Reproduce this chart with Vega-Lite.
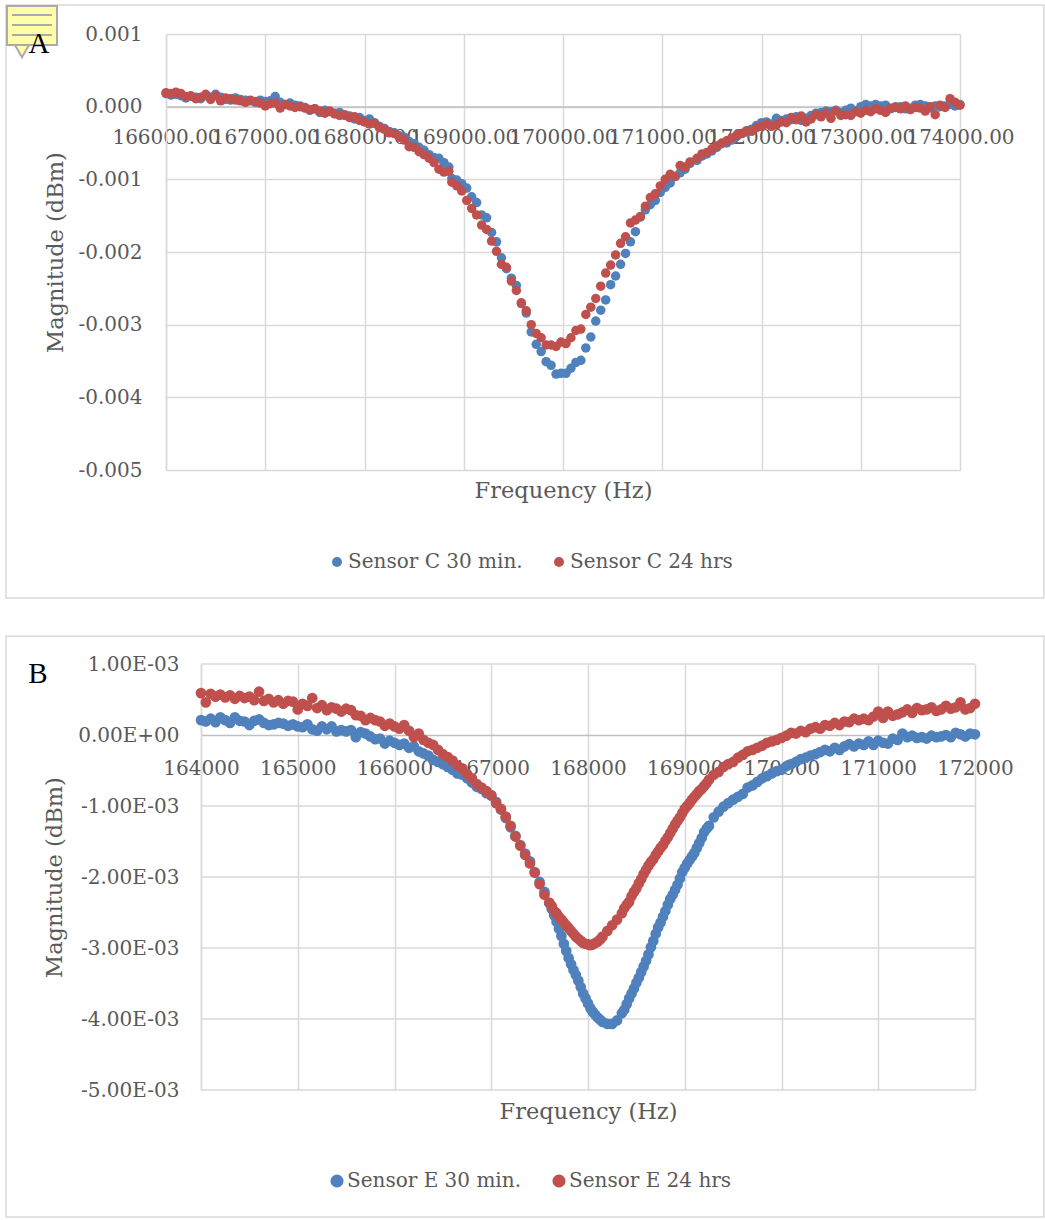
{"$schema":"https://vega.github.io/schema/vega-lite/v6.json","padding":{"left":5,"top":4,"right":0,"bottom":0},"autosize":{"type":"pad"},"background":"white","spacing":36,"align":"none","bounds":"full","center":false,"resolve":{"scale":{"color":"independent"},"legend":{"color":"independent"}},"config":{"view":{"stroke":null},"font":"DejaVu Serif"},"datasets":{"c":[
{"f":166000,"a":0.00018,"b":0.00019},{"f":166050,"a":0.00016,"b":0.00018},{"f":166100,"a":0.00017,"b":0.0002},{"f":166150,"a":0.00015,"b":0.00018},{"f":166200,"a":0.00012,"b":0.00014},{"f":166250,"a":0.00014,"b":0.00015},{"f":166300,"a":0.00013,"b":0.00011},{"f":166350,"a":0.00011,"b":0.00013},{"f":166400,"a":0.00015,"b":0.00017},{"f":166450,"a":0.00013,"b":0.0001},{"f":166500,"a":0.00017,"b":0.00015},{"f":166550,"a":0.00013,"b":0.00008},{"f":166600,"a":0.0001,"b":0.00012},{"f":166650,"a":0.00009,"b":0.00011},{"f":166700,"a":0.00012,"b":0.00009},{"f":166750,"a":0.0001,"b":0.00008},{"f":166800,"a":0.00009,"b":0.00006},{"f":166850,"a":0.00008,"b":0.00009},{"f":166900,"a":0.00006,"b":0.00007},{"f":166950,"a":0.00009,"b":0.00005},{"f":167000,"a":0.00007,"b":0.00001},{"f":167050,"a":0.00008,"b":0.00004},{"f":167100,"a":0.00014,"b":0.00005},{"f":167150,"a":0.00006,"b":-0.00002},{"f":167200,"a":0.00003,"b":0.00003},{"f":167250,"a":0.00005,"b":0.00001},{"f":167300,"a":0.00002,"b":-0.00001},{"f":167350,"a":0.00001,"b":0},{"f":167400,"a":-0.00001,"b":-0.00002},{"f":167450,"a":-0.00005,"b":-0.00004},{"f":167500,"a":-0.00003,"b":-0.00003},{"f":167550,"a":-0.00008,"b":-0.00006},{"f":167600,"a":-0.00005,"b":-0.00009},{"f":167650,"a":-0.00007,"b":-0.00006},{"f":167700,"a":-0.00009,"b":-0.0001},{"f":167750,"a":-0.00008,"b":-0.00012},{"f":167800,"a":-0.00012,"b":-0.00011},{"f":167850,"a":-0.00013,"b":-0.00015},{"f":167900,"a":-0.00017,"b":-0.00014},{"f":167950,"a":-0.00015,"b":-0.00019},{"f":168000,"a":-0.00019,"b":-0.00021},
{"f":168050,"a":-0.00017,"b":-0.00024},{"f":168100,"a":-0.00022,"b":-0.00023},{"f":168150,"a":-0.00027,"b":-0.00029},{"f":168200,"a":-0.0003,"b":-0.00031},{"f":168250,"a":-0.00034,"b":-0.00036},{"f":168300,"a":-0.00036,"b":-0.00037},{"f":168350,"a":-0.0004,"b":-0.00042},{"f":168400,"a":-0.00042,"b":-0.00046},{"f":168450,"a":-0.00048,"b":-0.00055},{"f":168500,"a":-0.00051,"b":-0.00056},{"f":168550,"a":-0.00056,"b":-0.00062},{"f":168600,"a":-0.0006,"b":-0.00066},{"f":168650,"a":-0.00066,"b":-0.00071},{"f":168700,"a":-0.0007,"b":-0.00077},{"f":168750,"a":-0.00071,"b":-0.00086},{"f":168800,"a":-0.00077,"b":-0.0009},{"f":168850,"a":-0.00083,"b":-0.00089},{"f":168880,"a":-0.00099,"b":-0.00104},{"f":168930,"a":-0.00101,"b":-0.00109},{"f":168980,"a":-0.00106,"b":-0.00116},{"f":169030,"a":-0.00112,"b":-0.00129},{"f":169080,"a":-0.00124,"b":-0.0014},{"f":169130,"a":-0.00132,"b":-0.00149},{"f":169180,"a":-0.00149,"b":-0.00163},{"f":169230,"a":-0.00153,"b":-0.00169},{"f":169280,"a":-0.00173,"b":-0.00185},{"f":169330,"a":-0.00186,"b":-0.00199},{"f":169380,"a":-0.00208,"b":-0.00217},{"f":169430,"a":-0.00223,"b":-0.00221},{"f":169480,"a":-0.00236,"b":-0.0024},{"f":169530,"a":-0.00246,"b":-0.00253},{"f":169580,"a":-0.00271,"b":-0.0027},{"f":169630,"a":-0.00284,"b":-0.00281},{"f":169680,"a":-0.0031,"b":-0.003},{"f":169730,"a":-0.00327,"b":-0.00312},{"f":169780,"a":-0.00337,"b":-0.00318},{"f":169830,"a":-0.00351,"b":-0.00328},{"f":169880,"a":-0.00356,"b":-0.00328},{"f":169930,"a":-0.00368,"b":-0.0033},{"f":169980,"a":-0.00367,"b":-0.00324},{"f":170030,"a":-0.00367,"b":-0.00326},{"f":170080,"a":-0.0036,"b":-0.00318},{"f":170130,"a":-0.00352,"b":-0.00308},{"f":170180,"a":-0.00349,"b":-0.00306},{"f":170230,"a":-0.00332,"b":-0.00286},{"f":170280,"a":-0.00317,"b":-0.00276},{"f":170330,"a":-0.00295,"b":-0.00264},{"f":170380,"a":-0.0028,"b":-0.00247},{"f":170430,"a":-0.00266,"b":-0.00229},{"f":170480,"a":-0.00245,"b":-0.00218},{"f":170530,"a":-0.00233,"b":-0.00204},{"f":170580,"a":-0.00217,"b":-0.00188},{"f":170630,"a":-0.00202,"b":-0.00179},{"f":170680,"a":-0.00186,"b":-0.0016},{"f":170730,"a":-0.00172,"b":-0.00156},{"f":170780,"a":-0.00152,"b":-0.00151},{"f":170830,"a":-0.00142,"b":-0.00137},{"f":170880,"a":-0.00135,"b":-0.00125},{"f":170930,"a":-0.00129,"b":-0.0012},{"f":170980,"a":-0.00118,"b":-0.00109},{"f":171030,"a":-0.00111,"b":-0.001},{"f":171080,"a":-0.00105,"b":-0.00093},{"f":171130,"a":-0.00096,"b":-0.00096},{"f":171180,"a":-0.00091,"b":-0.00081},{"f":171230,"a":-0.00086,"b":-0.00083},{"f":171280,"a":-0.00078,"b":-0.00076},{"f":171350,"a":-0.00074,"b":-0.00071},{"f":171400,"a":-0.00068,"b":-0.00065},{"f":171450,"a":-0.00065,"b":-0.00063},{"f":171500,"a":-0.00061,"b":-0.00058},{"f":171550,"a":-0.00056,"b":-0.00054},{"f":171600,"a":-0.00051,"b":-0.0005},{"f":171650,"a":-0.0005,"b":-0.00047},{"f":171700,"a":-0.00046,"b":-0.00043},{"f":171750,"a":-0.00041,"b":-0.00039},{"f":171800,"a":-0.00037,"b":-0.00037},{"f":171850,"a":-0.00035,"b":-0.00033},{"f":171900,"a":-0.00031,"b":-0.00034},{"f":171950,"a":-0.00026,"b":-0.00029},{"f":172000,"a":-0.00022,"b":-0.00027},{"f":172050,"a":-0.00021,"b":-0.00024},{"f":172100,"a":-0.00024,"b":-0.00027},{"f":172150,"a":-0.00016,"b":-0.00025},{"f":172200,"a":-0.00019,"b":-0.00021},{"f":172250,"a":-0.00017,"b":-0.00022},{"f":172300,"a":-0.00018,"b":-0.00015},{"f":172350,"a":-0.00014,"b":-0.00018},{"f":172400,"a":-0.00019,"b":-0.00013},{"f":172450,"a":-0.00016,"b":-0.00021},{"f":172500,"a":-0.00012,"b":-0.00017},{"f":172550,"a":-0.00009,"b":-0.00011},{"f":172600,"a":-0.00008,"b":-0.00014},{"f":172650,"a":-0.00006,"b":-0.00009},{"f":172700,"a":-0.00007,"b":-0.00016},{"f":172750,"a":-0.00005,"b":-0.00006},{"f":172800,"a":-0.00008,"b":-0.00012},{"f":172850,"a":-0.00005,"b":-0.00011},{"f":172900,"a":-0.00002,"b":-0.00012},{"f":172950,"a":-0.00006,"b":-0.00007},{"f":173000,"a":0,"b":-0.00009},{"f":173050,"a":0.00003,"b":-0.00005},{"f":173100,"a":0.00001,"b":-0.00007},{"f":173150,"a":0.00003,"b":-0.00003},{"f":173200,"a":0.00001,"b":-0.00005},{"f":173250,"a":0.00002,"b":-0.00008},{"f":173300,"a":-0.00003,"b":-0.00002},{"f":173350,"a":0,"b":-0.00001},{"f":173400,"a":0,"b":-0.00003},{"f":173450,"a":-0.00003,"b":0.00001},{"f":173500,"a":-0.00002,"b":-0.00004},{"f":173550,"a":0.00002,"b":-0.00001},{"f":173600,"a":0.00003,"b":-0.00002},{"f":173650,"a":0.00001,"b":-0.00006},{"f":173700,"a":-0.00002,"b":0},{"f":173750,"a":0.00001,"b":-0.00011},{"f":173800,"a":0,"b":0.00002},{"f":173850,"a":0.00001,"b":-0.00001},{"f":173900,"a":0.00003,"b":0.00011},{"f":173950,"a":0.00001,"b":0.00006},{"f":174000,"a":0.00003,"b":0.00002}
],"e":[
{"f":164000,"a":0.00021,"b":0.00059},{"f":164050,"a":0.00019,"b":0.00046},{"f":164100,"a":0.00023,"b":0.00058},{"f":164150,"a":0.00018,"b":0.00054},{"f":164200,"a":0.00025,"b":0.00057},{"f":164250,"a":0.00021,"b":0.00053},{"f":164300,"a":0.00017,"b":0.00056},{"f":164350,"a":0.00025,"b":0.00051},{"f":164400,"a":0.0002,"b":0.00055},{"f":164450,"a":0.00019,"b":0.00052},{"f":164500,"a":0.00014,"b":0.00054},{"f":164550,"a":0.0002,"b":0.00049},{"f":164600,"a":0.00022,"b":0.00061},{"f":164650,"a":0.00017,"b":0.00048},{"f":164700,"a":0.00014,"b":0.00051},{"f":164750,"a":0.00015,"b":0.00046},{"f":164800,"a":0.00017,"b":0.00049},{"f":164850,"a":0.00016,"b":0.00044},{"f":164900,"a":0.00013,"b":0.00048},{"f":164950,"a":0.00015,"b":0.00047},{"f":165000,"a":0.00012,"b":0.00036},{"f":165050,"a":0.00011,"b":0.00044},{"f":165100,"a":0.00015,"b":0.00041},{"f":165150,"a":0.00008,"b":0.00052},{"f":165200,"a":0.00006,"b":0.00038},{"f":165250,"a":0.00012,"b":0.00042},{"f":165300,"a":0.00008,"b":0.00035},{"f":165350,"a":0.00012,"b":0.00039},{"f":165400,"a":0.00005,"b":0.00037},{"f":165450,"a":0.00007,"b":0.00033},{"f":165500,"a":0.00005,"b":0.00037},{"f":165550,"a":0.00007,"b":0.00035},{"f":165600,"a":-0.00003,"b":0.00028},{"f":165650,"a":0.00004,"b":0.00027},{"f":165700,"a":0.00002,"b":0.00021},{"f":165750,"a":-0.00002,"b":0.00024},{"f":165800,"a":-0.00006,"b":0.00021},{"f":165850,"a":-0.00005,"b":0.00019},{"f":165900,"a":-0.00012,"b":0.00013},{"f":165950,"a":-0.00008,"b":0.00016},{"f":166000,"a":-0.00011,"b":0.00012},{"f":166050,"a":-0.00014,"b":0.00009},{"f":166100,"a":-0.00012,"b":0.00014},{"f":166150,"a":-0.00018,"b":0.00006},{"f":166200,"a":-0.00016,"b":-0.00003},{"f":166250,"a":-0.00023,"b":0.00002},{"f":166300,"a":-0.00026,"b":-0.00007},{"f":166350,"a":-0.00029,"b":-0.00011},{"f":166400,"a":-0.00035,"b":-0.00014},{"f":166450,"a":-0.00038,"b":-0.00021},{"f":166500,"a":-0.00041,"b":-0.00027},{"f":166550,"a":-0.00045,"b":-0.00031},{"f":166600,"a":-0.00049,"b":-0.00036},{"f":166650,"a":-0.00054,"b":-0.00043},{"f":166700,"a":-0.00056,"b":-0.00047},{"f":166750,"a":-0.00061,"b":-0.00055},{"f":166800,"a":-0.00067,"b":-0.00061},{"f":166850,"a":-0.00073,"b":-0.00069},{"f":166900,"a":-0.00076,"b":-0.00074},{"f":166950,"a":-0.00082,"b":-0.00079},
{"f":167000,"a":-0.00085,"b":-0.00085},{"f":167050,"a":-0.00094,"b":-0.00096},{"f":167100,"a":-0.00105,"b":-0.00104},{"f":167150,"a":-0.00117,"b":-0.00115},{"f":167200,"a":-0.0013,"b":-0.00128},{"f":167250,"a":-0.00142,"b":-0.00143},{"f":167300,"a":-0.00155,"b":-0.00156},{"f":167350,"a":-0.00167,"b":-0.00169},{"f":167400,"a":-0.00178,"b":-0.00181},{"f":167450,"a":-0.00193,"b":-0.00194},{"f":167500,"a":-0.00207,"b":-0.0021},{"f":167550,"a":-0.00221,"b":-0.00225},{"f":167600,"a":-0.00237,"b":-0.00236},{"f":167625,"a":-0.00245,"b":-0.00241},{"f":167650,"a":-0.00254,"b":-0.00248},{"f":167675,"a":-0.00263,"b":-0.00251},{"f":167700,"a":-0.00273,"b":-0.00256},{"f":167725,"a":-0.00283,"b":-0.0026},{"f":167750,"a":-0.00294,"b":-0.00264},{"f":167775,"a":-0.00304,"b":-0.00268},{"f":167800,"a":-0.00314,"b":-0.00272},{"f":167825,"a":-0.00323,"b":-0.00276},{"f":167850,"a":-0.00331,"b":-0.0028},{"f":167875,"a":-0.00338,"b":-0.00284},{"f":167900,"a":-0.00346,"b":-0.00287},{"f":167925,"a":-0.00355,"b":-0.0029},{"f":167950,"a":-0.00364,"b":-0.00293},{"f":167975,"a":-0.00371,"b":-0.00294},{"f":168000,"a":-0.00378,"b":-0.00295},{"f":168025,"a":-0.00385,"b":-0.00296},{"f":168050,"a":-0.0039,"b":-0.00295},{"f":168075,"a":-0.00394,"b":-0.00293},{"f":168100,"a":-0.00398,"b":-0.00291},{"f":168125,"a":-0.00401,"b":-0.00288},{"f":168150,"a":-0.00404,"b":-0.00284},{"f":168200,"a":-0.00407,"b":-0.00276},{"f":168250,"a":-0.00407,"b":-0.00268},{"f":168300,"a":-0.00402,"b":-0.0026},{"f":168350,"a":-0.00392,"b":-0.00251},{"f":168375,"a":-0.00387,"b":-0.00244},{"f":168400,"a":-0.00379,"b":-0.00239},{"f":168425,"a":-0.00371,"b":-0.00235},{"f":168450,"a":-0.00364,"b":-0.00227},{"f":168475,"a":-0.00357,"b":-0.00221},{"f":168500,"a":-0.00349,"b":-0.00216},{"f":168525,"a":-0.00342,"b":-0.00209},{"f":168550,"a":-0.00334,"b":-0.00203},{"f":168575,"a":-0.00326,"b":-0.00196},{"f":168600,"a":-0.00318,"b":-0.0019},{"f":168625,"a":-0.00309,"b":-0.00184},{"f":168650,"a":-0.00299,"b":-0.00179},{"f":168675,"a":-0.0029,"b":-0.00175},{"f":168700,"a":-0.0028,"b":-0.00169},{"f":168725,"a":-0.00271,"b":-0.00164},{"f":168750,"a":-0.00264,"b":-0.00159},{"f":168775,"a":-0.00256,"b":-0.00155},{"f":168800,"a":-0.00248,"b":-0.00149},{"f":168825,"a":-0.00239,"b":-0.00144},{"f":168850,"a":-0.00231,"b":-0.00138},{"f":168875,"a":-0.00225,"b":-0.00132},{"f":168900,"a":-0.00218,"b":-0.00126},{"f":168925,"a":-0.00211,"b":-0.00121},{"f":168950,"a":-0.00202,"b":-0.00116},{"f":168975,"a":-0.00193,"b":-0.0011},{"f":169000,"a":-0.00187,"b":-0.00104},{"f":169025,"a":-0.00181,"b":-0.001},{"f":169050,"a":-0.00176,"b":-0.00096},{"f":169075,"a":-0.00171,"b":-0.00091},{"f":169100,"a":-0.00166,"b":-0.00087},{"f":169125,"a":-0.00159,"b":-0.00083},
{"f":169150,"a":-0.00152,"b":-0.00079},{"f":169175,"a":-0.00145,"b":-0.00076},{"f":169200,"a":-0.00137,"b":-0.00072},{"f":169225,"a":-0.00132,"b":-0.00068},{"f":169250,"a":-0.00128,"b":-0.00063},{"f":169300,"a":-0.00116,"b":-0.00056},{"f":169350,"a":-0.00108,"b":-0.00052},{"f":169400,"a":-0.00101,"b":-0.00045},{"f":169450,"a":-0.00096,"b":-0.00041},{"f":169500,"a":-0.00091,"b":-0.00038},{"f":169550,"a":-0.00087,"b":-0.00032},{"f":169600,"a":-0.00083,"b":-0.00028},{"f":169650,"a":-0.00074,"b":-0.00023},{"f":169700,"a":-0.00071,"b":-0.00021},{"f":169750,"a":-0.00066,"b":-0.00018},{"f":169800,"a":-0.00061,"b":-0.00015},{"f":169850,"a":-0.00058,"b":-0.00011},{"f":169900,"a":-0.00054,"b":-0.00009},{"f":169950,"a":-0.00051,"b":-0.00007},{"f":170000,"a":-0.00049,"b":-0.00004},{"f":170050,"a":-0.00044,"b":-0.00001},{"f":170100,"a":-0.00041,"b":0.00003},{"f":170150,"a":-0.00038,"b":0.00002},{"f":170200,"a":-0.00034,"b":0.00006},{"f":170250,"a":-0.00032,"b":0.00004},{"f":170300,"a":-0.00029,"b":0.00009},{"f":170350,"a":-0.00027,"b":0.00011},{"f":170400,"a":-0.00024,"b":0.00009},{"f":170450,"a":-0.00021,"b":0.00014},{"f":170500,"a":-0.00023,"b":0.00013},{"f":170550,"a":-0.00018,"b":0.00017},{"f":170600,"a":-0.00021,"b":0.00014},{"f":170650,"a":-0.00016,"b":0.00019},{"f":170700,"a":-0.00013,"b":0.00018},{"f":170750,"a":-0.00016,"b":0.00023},{"f":170800,"a":-0.00012,"b":0.00021},{"f":170850,"a":-0.00014,"b":0.00023},{"f":170900,"a":-0.00009,"b":0.00021},{"f":170950,"a":-0.00014,"b":0.00026},{"f":171000,"a":-0.00008,"b":0.00033},{"f":171050,"a":-0.00011,"b":0.00024},{"f":171100,"a":-0.00012,"b":0.00033},{"f":171150,"a":-0.00005,"b":0.00027},{"f":171200,"a":-0.00007,"b":0.00029},{"f":171250,"a":0.00002,"b":0.00032},{"f":171300,"a":-0.00003,"b":0.00036},{"f":171350,"a":-0.00001,"b":0.00031},{"f":171400,"a":-0.00004,"b":0.00038},{"f":171450,"a":-0.00003,"b":0.00035},{"f":171500,"a":-0.00005,"b":0.00036},{"f":171550,"a":-0.00001,"b":0.00039},{"f":171600,"a":-0.00003,"b":0.00034},{"f":171650,"a":-0.00002,"b":0.00036},{"f":171700,"a":0,"b":0.00041},{"f":171750,"a":-0.00003,"b":0.00037},{"f":171800,"a":0.00003,"b":0.00039},{"f":171850,"a":0.00001,"b":0.00046},{"f":171900,"a":-0.00002,"b":0.00036},{"f":171950,"a":0.00002,"b":0.00038},{"f":172000,"a":0.00001,"b":0.00044}
]},
"vconcat":[
{"width":794,"height":436,"layer":[
{"data":{"values":[{"part":"frame"}]},"mark":{"type":"rect","fill":null,"stroke":"#d9d9d9","strokeWidth":1.5},"encoding":{"x":{"datum":164388,"type":"quantitative","scale":{"domain":[166000,174000],"nice":false,"zero":false},"axis":{"title":"Frequency (Hz)","values":[166000,167000,168000,169000,170000,171000,172000,173000,174000],"format":".2f","labelOverlap":false,"labelFlush":false,"labelBound":false,"labelFontSize":20,"labelColor":"#595959","labelPadding":21,"ticks":false,"offset":-363.5,"grid":true,"gridColor":"#d9d9d9","gridWidth":1.5,"domainColor":"#bfbfbf","domainWidth":1.5,"titleFontSize":22.5,"titleFontWeight":"normal","titleColor":"#595959","titleY":373}},"x2":{"datum":174846},"y":{"datum":0.0014,"type":"quantitative","scale":{"domain":[-0.005,0.001],"nice":false,"zero":false},"axis":{"title":"Magnitude (dBm)","values":[-0.005,-0.004,-0.003,-0.002,-0.001,0,0.001],"labelExpr":"replace(format(datum.value,'.3f'),'−','-')","labelFontSize":20,"labelColor":"#595959","labelPadding":24,"ticks":false,"grid":true,"gridColor":"#d9d9d9","gridWidth":1.5,"domainColor":"#d9d9d9","domainWidth":1.5,"titleFontSize":22.5,"titleFontWeight":"normal","titleColor":"#595959","titleX":-99}},"y2":{"datum":-0.00676}}},
{"data":{"name":"c"},"mark":{"type":"point","filled":true,"size":90,"opacity":1,"shape":"circle"},"encoding":{"x":{"field":"f","type":"quantitative"},"y":{"field":"a","type":"quantitative"},"color":{"datum":"Sensor C 30 min.","type":"nominal","scale":{"domain":["Sensor C 30 min.","Sensor C 24 hrs"],"range":["#4F81BD","#C0504D"]},"legend":{"title":null,"orient":"none","legendX":161,"legendY":518,"direction":"horizontal","columns":2,"symbolType":"circle","symbolSize":100,"labelFontSize":20,"labelLimit":400,"labelOffset":1,"labelColor":"#595959","columnPadding":26}}}},
{"data":{"name":"c"},"mark":{"type":"point","filled":true,"size":90,"opacity":1,"shape":"circle"},"encoding":{"x":{"field":"f","type":"quantitative"},"y":{"field":"b","type":"quantitative"},"color":{"datum":"Sensor C 24 hrs","type":"nominal"}}},
{"data":{"values":[{"part":"note pointer"}]},"mark":{"type":"point","filled":true,"size":200,"shape":"triangle-down","fill":"#FFFFAA","stroke":"#aaaaaa","strokeWidth":2,"opacity":1},"encoding":{"x":{"datum":164549,"type":"quantitative"},"y":{"datum":0.000766,"type":"quantitative"}}},
{"data":{"values":[{"part":"note"}]},"mark":{"type":"rect","fill":"#FFFFAA","stroke":"#aaaaaa","strokeWidth":2},"encoding":{"x":{"datum":164398,"type":"quantitative"},"x2":{"datum":164902},"y":{"datum":0.001385,"type":"quantitative"},"y2":{"datum":0.000849}}},
{"data":{"values":[{"y":0.001261},{"y":0.001124},{"y":0.000986}]},"mark":{"type":"rule","color":"#aaaaaa","strokeWidth":2},"encoding":{"x":{"datum":164448,"type":"quantitative"},"x2":{"datum":164851},"y":{"field":"y","type":"quantitative"}}},
{"data":{"values":[{"t":"A"}]},"mark":{"type":"text","font":"Liberation Serif","fontSize":29,"color":"#000000"},"encoding":{"text":{"field":"t"},"x":{"datum":164720,"type":"quantitative"},"y":{"datum":0.00086,"type":"quantitative"}}}
]},
{"width":809,"height":426,"layer":[
{"data":{"values":[{"part":"frame"}]},"mark":{"type":"rect","fill":null,"stroke":"#d9d9d9","strokeWidth":1.5},"encoding":{"x":{"datum":161985,"type":"quantitative","scale":{"domain":[164000,172000],"range":[35,809],"nice":false,"zero":false},"axis":{"title":"Frequency (Hz)","values":[164000,165000,166000,167000,168000,169000,170000,171000,172000],"format":"d","labelOverlap":false,"labelFlush":false,"labelBound":false,"labelFontSize":20,"labelColor":"#595959","labelPadding":23,"ticks":false,"offset":-355,"grid":true,"gridColor":"#d9d9d9","gridWidth":1.5,"domainColor":"#bfbfbf","domainWidth":1.5,"titleFontSize":22.5,"titleFontWeight":"normal","titleColor":"#595959","titleY":365}},"x2":{"datum":172713},"y":{"datum":0.00139,"type":"quantitative","scale":{"domain":[-0.005,0.001],"nice":false,"zero":false},"axis":{"title":"Magnitude (dBm)","values":[-0.005,-0.004,-0.003,-0.002,-0.001,0,0.001],"labelExpr":"replace(replace(replace(format(datum.value,'.2e'),'e-','E-0'),'e+','E+0'),'−','-')","labelFontSize":20,"labelColor":"#595959","labelPadding":22,"ticks":false,"grid":false,"offset":-35,"domainColor":"#d9d9d9","domainWidth":1.5,"titleFontSize":22.5,"titleFontWeight":"normal","titleColor":"#595959","titleX":-135}},"y2":{"datum":-0.00679}}},
{"data":{"values":[{"v":-0.005},{"v":-0.004},{"v":-0.003},{"v":-0.002},{"v":-0.001},{"v":0.001}]},"mark":{"type":"rule","color":"#d9d9d9","strokeWidth":1.5},"encoding":{"x":{"datum":164000,"type":"quantitative"},"x2":{"datum":172000},"y":{"field":"v","type":"quantitative"}}},
{"data":{"name":"e"},"mark":{"type":"point","filled":true,"size":115,"opacity":1,"shape":"circle"},"encoding":{"x":{"field":"f","type":"quantitative"},"y":{"field":"a","type":"quantitative"},"color":{"datum":"Sensor E 30 min.","type":"nominal","scale":{"domain":["Sensor E 30 min.","Sensor E 24 hrs"],"range":["#4F81BD","#C0504D"]},"legend":{"title":null,"orient":"none","legendX":161,"legendY":507,"direction":"horizontal","columns":2,"symbolType":"circle","symbolSize":170,"labelFontSize":20,"labelLimit":400,"labelOffset":0,"labelColor":"#595959","columnPadding":27}}}},
{"data":{"name":"e"},"mark":{"type":"point","filled":true,"size":115,"opacity":1,"shape":"circle"},"encoding":{"x":{"field":"f","type":"quantitative"},"y":{"field":"b","type":"quantitative"},"color":{"datum":"Sensor E 24 hrs","type":"nominal"}}},
{"data":{"values":[{"t":"B"}]},"mark":{"type":"text","font":"Liberation Serif","fontSize":29,"color":"#000000"},"encoding":{"text":{"field":"t"},"x":{"datum":162315,"type":"quantitative"},"y":{"datum":0.00086,"type":"quantitative"}}}
]}
]}
